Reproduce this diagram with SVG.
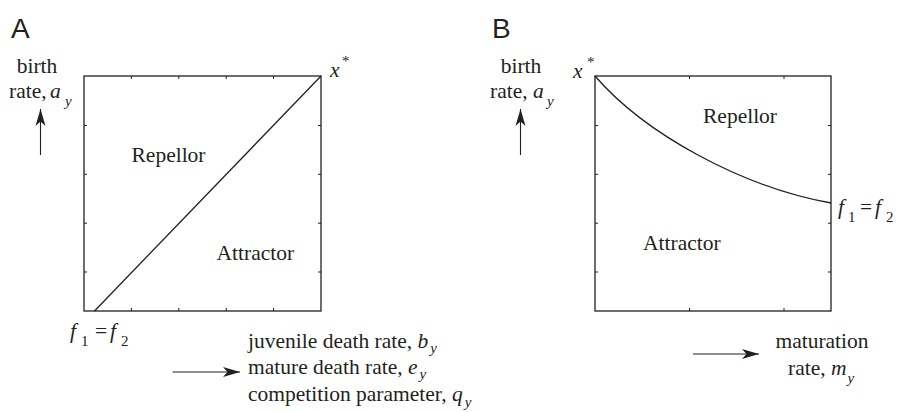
<svg xmlns="http://www.w3.org/2000/svg" width="897" height="412" viewBox="0 0 897 412">
<style>
.t{font-family:"Liberation Serif","Times New Roman",serif;font-size:21.5px;fill:#231f20}
.i{font-style:italic}
.s{font-size:15px}
.p{font-family:"Liberation Sans",Arial,sans-serif;font-size:28px;fill:#231f20}
.box{fill:none;stroke:#231f20;stroke-width:1.3}
.tk{stroke:#231f20;stroke-width:1}
.cv{fill:none;stroke:#231f20;stroke-width:1.3}
.ar{stroke:#231f20;stroke-width:1.1;fill:none;marker-end:url(#ah)}
</style>
<defs>
<marker id="ah" markerUnits="userSpaceOnUse" markerWidth="20" markerHeight="12" viewBox="-18 -6 20 12" refX="0" refY="0" orient="auto">
<path d="M0,0 L-17,-5 L-12.5,0 L-17,5 Z" fill="#231f20"/>
</marker>
</defs>
<g id="panelA">
<text class="p" x="11" y="38">A</text>
<g id="A-plot">
<rect class="box" x="84" y="76" width="237" height="235"/>
<path class="tk" d="M131.4,76v3M178.8,76v3M226.2,76v3M273.6,76v3M131.4,311v-3M178.8,311v-3M226.2,311v-3M273.6,311v-3M84,125.5h3M84,174.3h3M84,223.2h3M84,272h3M321,125.5h-3M321,174.3h-3M321,223.2h-3M321,272h-3"/>
<path class="cv" d="M94.5,311 L321,76"/>
<text class="t" x="131.5" y="162">Repellor</text>
<text class="t" x="216.5" y="260">Attractor</text>
</g>
<g id="A-ylabel">
<text class="t" x="37" y="73" text-anchor="middle">birth</text>
<text class="t" x="9" y="98">rate,</text>
<text class="t i" x="50" y="98">a</text>
<text class="t i s" x="65" y="106">y</text>
</g>
<g id="A-xstar">
<text class="t i" x="330" y="77">x</text>
<text class="t s" x="342" y="66">*</text>
</g>
<g id="A-f">
<text class="t i" x="70" y="338">f</text>
<text class="t s" x="81" y="346">1</text>
<text class="t" x="95" y="338">=</text>
<text class="t i" x="110" y="338">f</text>
<text class="t s" x="121" y="346">2</text>
</g>
<g id="A-xlabel">
<text class="t" x="248" y="348">juvenile death rate, <tspan class="i">b</tspan><tspan class="i s" dx="2" dy="5">y</tspan></text>
<text class="t" x="248" y="374">mature death rate, <tspan class="i">e</tspan><tspan class="i s" dx="2" dy="5">y</tspan></text>
<text class="t" x="248" y="401">competition parameter, <tspan class="i">q</tspan><tspan class="i s" dx="2" dy="6">y</tspan></text>
</g>
</g>
<g id="panelB">
<text class="p" x="492" y="38">B</text>
<g id="B-plot">
<rect class="box" x="595" y="76" width="236" height="235"/>
<path class="tk" d="M689.5,76v3M784,76v3M689.5,311v-3M784,311v-3M595,125.5h3M595,174.3h3M595,223.2h3M595,272h3M831,125.5h-3M831,174.3h-3M831,223.2h-3M831,272h-3"/>
<path class="cv" d="M595,76 C645,134 742,187 831,203"/>
<text class="t" x="703" y="123">Repellor</text>
<text class="t" x="643" y="250">Attractor</text>
</g>
<g id="B-ylabel">
<text class="t" x="521" y="73" text-anchor="middle">birth</text>
<text class="t" x="490" y="98">rate,</text>
<text class="t i" x="533" y="98">a</text>
<text class="t i s" x="547" y="106">y</text>
</g>
<g id="B-xstar">
<text class="t i" x="573" y="78">x</text>
<text class="t s" x="587" y="67">*</text>
</g>
<g id="B-f">
<text class="t i" x="838" y="214">f</text>
<text class="t s" x="848" y="222">1</text>
<text class="t" x="860" y="214">=</text>
<text class="t i" x="875" y="214">f</text>
<text class="t s" x="886" y="222">2</text>
</g>
<g id="B-xlabel">
<text class="t" x="822" y="348" text-anchor="middle">maturation</text>
<text class="t" x="788" y="375">rate, <tspan class="i">m</tspan><tspan class="i s" dx="1" dy="8">y</tspan></text>
</g>
</g>
<g id="connectors">
<line class="ar" x1="40.5" y1="155" x2="40.5" y2="109"/>
<line class="ar" x1="172.5" y1="372" x2="240" y2="372"/>
<line class="ar" x1="520.5" y1="155" x2="520.5" y2="109"/>
<line class="ar" x1="693" y1="354" x2="759" y2="354"/>
</g>
</svg>
